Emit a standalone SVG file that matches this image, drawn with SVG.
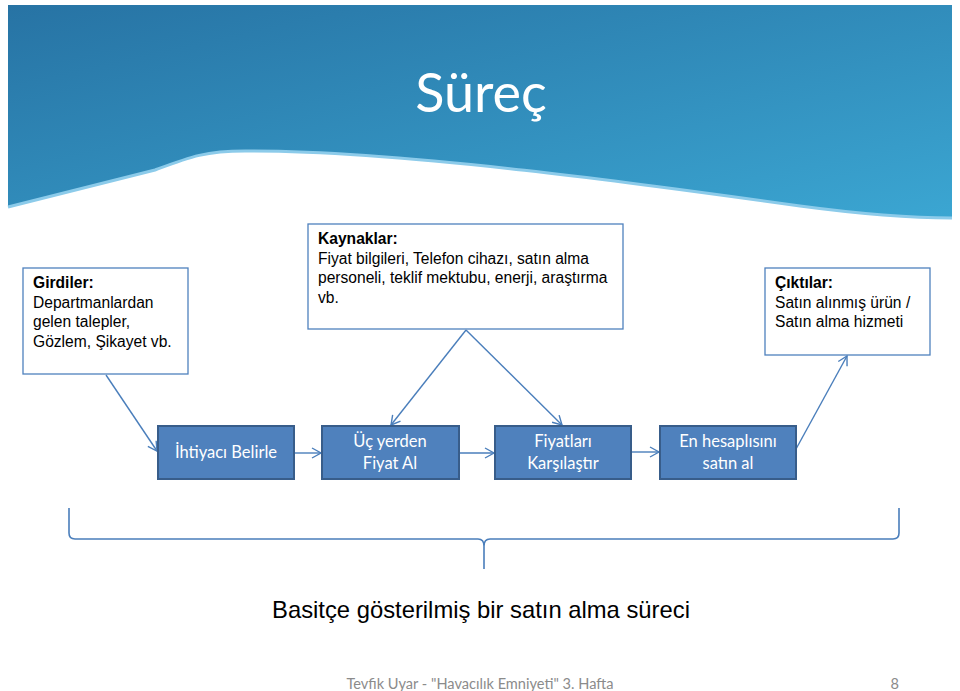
<svg xmlns="http://www.w3.org/2000/svg" width="960" height="691" viewBox="0 0 960 691">
<style>
.info{fill:#fff;stroke:#4f81bd;stroke-width:1.3}
.it{font-family:"Liberation Sans",Arial,sans-serif;font-size:15.6px;fill:#000}
.b{font-weight:bold}
.proc{fill:#4f81bd;stroke:#385d8a;stroke-width:2}
.pt{font-family:Lato,"Open Sans",sans-serif;font-size:16.5px;fill:#fff;text-anchor:middle}
.con{fill:none;stroke:#4a7ebb;stroke-width:1.4}
</style>
<defs>
<linearGradient id="bg" x1="0" y1="0" x2="1" y2="1">
<stop offset="0" stop-color="#2773a4"/>
<stop offset="1" stop-color="#3ba6d2"/>
</linearGradient>
<marker id="ah" markerWidth="12" markerHeight="12" refX="10" refY="6" orient="auto" markerUnits="userSpaceOnUse">
<path d="M1,1 L10,6 L1,11" fill="none" stroke="#4a7ebb" stroke-width="1.4"/>
</marker>
</defs>
<rect width="960" height="691" fill="#fff"/>
<g id="banner">
<path d="M8,5 H952 V218 C905,218 860,214 800,206 C650,185 400,150 245,151 C205,151 190,157 155,170 L8,207 Z" fill="url(#bg)"/>
<path d="M8,207 L155,170 C190,157 205,151 245,151 C400,150 650,185 800,206 C860,214 905,218 952,218" fill="none" stroke="#8ccbea" stroke-width="3"/>
<text x="481" y="112" font-family="Lato,'Open Sans',sans-serif" font-size="54" fill="#fff" text-anchor="middle">Süreç</text>
</g>
<g id="connectors">
<line class="con" x1="106" y1="375" x2="157" y2="451" marker-end="url(#ah)"/>
<line class="con" x1="466" y1="330" x2="391" y2="425" marker-end="url(#ah)"/>
<line class="con" x1="466" y1="330" x2="562" y2="425" marker-end="url(#ah)"/>
<line class="con" x1="294" y1="453" x2="321" y2="453" marker-end="url(#ah)"/>
<line class="con" x1="459" y1="453" x2="494" y2="453" marker-end="url(#ah)"/>
<line class="con" x1="631" y1="452" x2="659" y2="452" marker-end="url(#ah)"/>
<line class="con" x1="796" y1="449" x2="847" y2="356" marker-end="url(#ah)"/>
</g>
<g id="girdiler">
<rect class="info" x="23" y="268" width="165" height="106"/>
<text class="it" x="33" y="288"><tspan class="b">Girdiler:</tspan><tspan x="33" dy="19.5">Departmanlardan</tspan><tspan x="33" dy="19.5">gelen talepler,</tspan><tspan x="33" dy="19.5">Gözlem, Şikayet vb.</tspan></text>
</g>
<g id="kaynaklar">
<rect class="info" x="308" y="224" width="315" height="105"/>
<text class="it" x="318" y="244"><tspan class="b">Kaynaklar:</tspan><tspan x="318" dy="19.5">Fiyat bilgileri, Telefon cihazı, satın alma</tspan><tspan x="318" dy="19.5">personeli, teklif mektubu, enerji, araştırma</tspan><tspan x="318" dy="19.5">vb.</tspan></text>
</g>
<g id="ciktilar">
<rect class="info" x="765" y="268" width="165" height="87"/>
<text class="it" x="775" y="288"><tspan class="b">Çıktılar:</tspan><tspan x="775" dy="19.5">Satın alınmış ürün /</tspan><tspan x="775" dy="19.5">Satın alma hizmeti</tspan></text>
</g>
<g id="p1">
<rect class="proc" x="158" y="426" width="136" height="53"/>
<text class="pt" x="226" y="458">İhtiyacı Belirle</text>
</g>
<g id="p2">
<rect class="proc" x="322" y="426" width="137" height="53"/>
<text class="pt" x="390" y="447">Üç yerden</text>
<text class="pt" x="390" y="469">Fiyat Al</text>
</g>
<g id="p3">
<rect class="proc" x="495" y="426" width="136" height="53"/>
<text class="pt" x="563" y="447">Fiyatları</text>
<text class="pt" x="563" y="469">Karşılaştır</text>
</g>
<g id="p4">
<rect class="proc" x="660" y="426" width="136" height="53"/>
<text class="pt" x="728" y="447">En hesaplısını</text>
<text class="pt" x="728" y="469">satın al</text>
</g>
<g id="brace">
<path d="M69,508 V533 Q69,539 75,539 H478 Q484,539 484,546 V569 M484,546 Q484,539 490,539 H893 Q899,539 899,533 V508" fill="none" stroke="#4a7ebb" stroke-width="1.6"/>
</g>
<text x="481" y="618" font-family="'Liberation Sans',Arial,sans-serif" font-size="23.8" fill="#000" text-anchor="middle">Basitçe gösterilmiş bir satın alma süreci</text>
<text x="480" y="689" font-family="Lato,'Open Sans',sans-serif" font-size="14.6" fill="#8b8b8b" text-anchor="middle">Tevfik Uyar - "Havacılık Emniyeti" 3. Hafta</text>
<text x="899" y="689" font-family="Lato,'Open Sans',sans-serif" font-size="14.6" fill="#8b8b8b" text-anchor="end">8</text>
</svg>
